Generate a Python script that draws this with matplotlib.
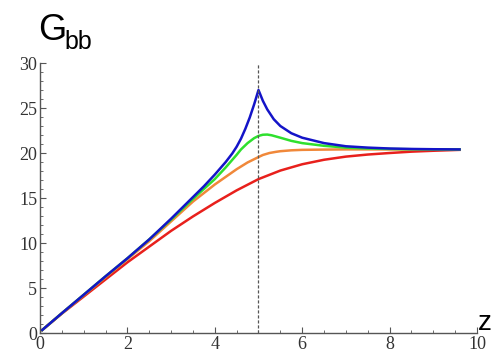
import matplotlib
matplotlib.use("Agg")
import matplotlib.pyplot as plt
from matplotlib.ticker import MultipleLocator

# curves
x_blue = [0.05, 0.5, 1, 1.5, 2, 2.5, 3, 3.5, 3.75, 4, 4.25, 4.4, 4.5, 4.6, 4.7, 4.8, 4.9, 4.95, 5.0,
          5.05, 5.1, 5.2, 5.35, 5.5, 5.75, 6, 6.5, 7, 7.5, 8, 8.5, 9, 9.6]
y_blue = [0.33, 2.2, 4.25, 6.3, 8.3, 10.4, 12.7, 15.1, 16.3, 17.6, 19.0, 19.95, 20.7, 21.6, 22.7,
          23.95, 25.4, 26.2, 27.0, 26.4, 25.8, 24.85, 23.75, 23.0, 22.2, 21.7, 21.1, 20.75, 20.6,
          20.5, 20.45, 20.42, 20.4]

x_green = [0.05, 0.5, 1, 1.5, 2, 2.5, 3, 3.5, 4, 4.25, 4.5, 4.6, 4.75, 4.9, 5.0, 5.1, 5.2, 5.3,
           5.5, 5.75, 6, 6.5, 7, 7.5, 8, 8.5, 9, 9.6]
y_green = [0.33, 2.2, 4.25, 6.3, 8.3, 10.4, 12.6, 14.9, 17.1, 18.4, 19.8, 20.4, 21.1, 21.65, 21.9,
           22.03, 22.05, 21.97, 21.7, 21.35, 21.1, 20.8, 20.6, 20.5, 20.45, 20.42, 20.4, 20.4]

x_orange = [0.05, 0.5, 1, 1.5, 2, 2.5, 3, 3.5, 4, 4.5, 4.75, 5, 5.1, 5.25, 5.4, 5.5, 5.75, 6,
            6.5, 7, 8, 9, 9.6]
y_orange = [0.33, 2.2, 4.2, 6.2, 8.2, 10.2, 12.4, 14.6, 16.5, 18.2, 18.95, 19.55, 19.78, 20.0,
            20.13, 20.2, 20.3, 20.35, 20.38, 20.4, 20.4, 20.4, 20.4]

x_red = [0.05, 0.5, 1, 1.5, 2, 2.5, 3, 3.5, 4, 4.5, 5, 5.5, 6, 6.5, 7, 7.5, 8, 8.5, 9, 9.6]
y_red = [0.33, 2.15, 4.05, 5.95, 7.85, 9.6, 11.35, 12.95, 14.45, 15.85, 17.1, 18.05, 18.75, 19.25,
         19.6, 19.83, 20.0, 20.15, 20.25, 20.35]

z_mark = 5.0

fig = plt.figure(figsize=(4.92, 3.56), dpi=100)
ax = fig.add_axes([0.0813, 0.0646, 0.8882, 0.7584])

ax.plot(x_red, y_red, color="#e8201c", lw=1.8)
ax.plot(x_orange, y_orange, color="#f0883a", lw=1.8)
ax.plot(x_green, y_green, color="#2ee02e", lw=1.8)
ax.plot(x_blue, y_blue, color="#1414c8", lw=1.8)
ax.axvline(z_mark, color="#555555", lw=0.9, ls=(0, (2.5, 1.5)))

ax.set_xlim(0, 10)
ax.set_ylim(0, 30)
for s in ("top", "right"):
    ax.spines[s].set_visible(False)
for s in ("left", "bottom"):
    ax.spines[s].set_color("#555555")
    ax.spines[s].set_linewidth(1.0)

ax.xaxis.set_major_locator(MultipleLocator(2))
ax.xaxis.set_minor_locator(MultipleLocator(0.5))
ax.yaxis.set_major_locator(MultipleLocator(5))
ax.yaxis.set_minor_locator(MultipleLocator(1))
ax.tick_params(which="major", direction="in", length=4, color="#555555",
               labelsize=13, pad=2)
ax.tick_params(which="minor", direction="in", length=2, color="#555555")
for lab in ax.get_xticklabels() + ax.get_yticklabels():
    lab.set_fontfamily("Liberation Serif")
    lab.set_color("#333333")

fig.text(0.078, 0.888, "G", fontsize=26, family="Liberation Sans", color="black")
fig.text(0.132, 0.862, "bb", fontsize=18, family="Liberation Sans", color="black")
fig.text(0.972, 0.072, "z", fontsize=20, family="Liberation Sans", color="black")

fig.savefig("out.png", dpi=100)
